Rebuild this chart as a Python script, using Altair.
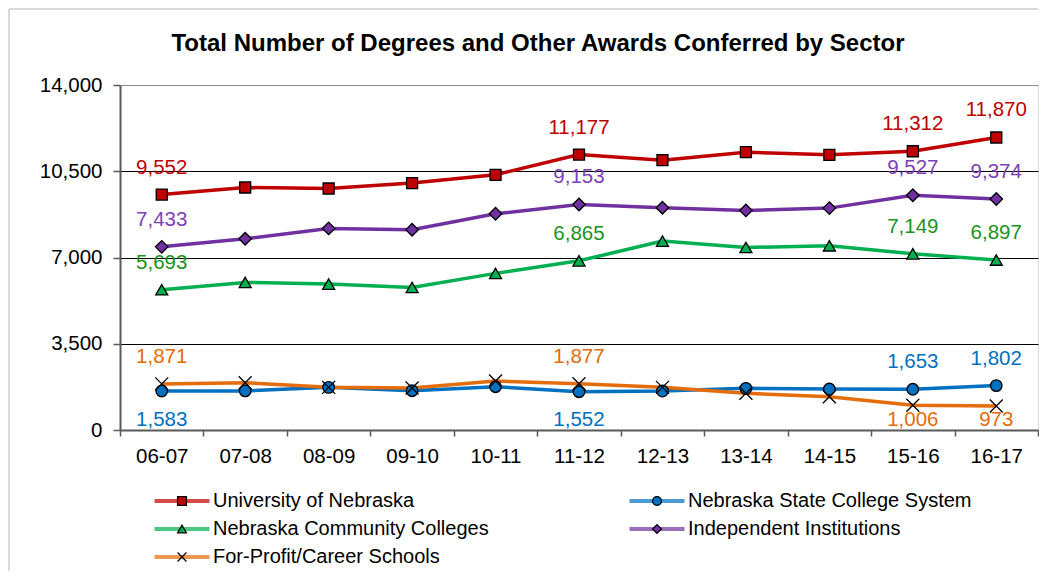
import altair as alt
import pandas as pd

# ---------------- data ----------------
years = ["06-07", "07-08", "08-09", "09-10", "10-11", "11-12",
         "12-13", "13-14", "14-15", "15-16", "16-17"]
series_names = ["University of Nebraska", "Nebraska State College System",
                "Nebraska Community Colleges", "Independent Institutions",
                "For-Profit/Career Schools"]
univ_nebraska = [9552, 9840, 9800, 10020, 10355, 11177, 10950, 11275, 11167, 11312, 11870]
state_college = [1583, 1585, 1731, 1594, 1756, 1552, 1582, 1690, 1663, 1653, 1802]
community_colleges = [5693, 5990, 5921, 5786, 6355, 6865, 7665, 7408, 7475, 7149, 6897]
independent = [7433, 7760, 8180, 8125, 8773, 9153, 9017, 8910, 9004, 9527, 9374]
for_profit = [1871, 1918, 1731, 1703, 1987, 1877, 1731, 1488, 1351, 1006, 973]
series_values = [univ_nebraska, state_college, community_colleges, independent, for_profit]

labeled_years = ["06-07", "11-12", "15-16", "16-17"]
labels_below = {"Nebraska State College System": ["06-07", "11-12"],
                "For-Profit/Career Schools": ["15-16", "16-17"]}
y_ticks = [0, 3500, 7000, 10500, 14000]
title_text = "Total Number of Degrees and Other Awards Conferred by Sector"

# ---------------- styles ----------------
line_colors = ["#C00000", "#0070C0", "#00B050", "#7030A0", "#E46C0A"]
label_colors = ["#C00000", "#0070C0", "#1A9420", "#7D3FB5", "#E46C0A"]
X_PATH = "M-1,-1L1,1M-1,1L1,-1"
shapes = ["square", "circle", "triangle-up", "diamond", X_PATH]
marker_sizes = [121, 169, 169, 196, 110]
FONT = "Liberation Sans"
W, H = 918, 345

rows = []
for s, vals in zip(series_names, series_values):
    for yr, v in zip(years, vals):
        pos = ""
        if yr in labeled_years:
            pos = "below" if yr in labels_below.get(s, []) else "above"
        rows.append({"year": yr, "series": s, "value": v, "pos": pos})
df = pd.DataFrame(rows)

leg_df = pd.DataFrame({"series": series_names,
                       "col": [i % 2 for i in range(len(series_names))],
                       "row": [i // 2 for i in range(len(series_names))]})

x_enc = alt.X("year:N", sort=years, bandPosition=0.5,
              scale=alt.Scale(type="band", paddingInner=0, paddingOuter=0),
              axis=alt.Axis(title=None, tickBand="extent", tickSize=6, labelPadding=10,
                            labelFontSize=20.5, labelFont=FONT, labelColor="black",
                            labelAngle=0, domainColor="#595959", domainWidth=2,
                            tickColor="#595959", tickWidth=1.5, grid=False))
y_enc = alt.Y("value:Q",
              scale=alt.Scale(domain=[0, 14000], nice=False),
              axis=alt.Axis(title=None, values=y_ticks,
                            labelExpr="format(datum.value, ',')", tickSize=7,
                            labelPadding=11, labelFontSize=20.5, labelFont=FONT,
                            labelColor="black", domainColor="#595959", domainWidth=2,
                            tickColor="#595959", tickWidth=1.5,
                            grid=True, gridWidth=1,
                            gridColor={"condition": {"test": "datum.value >= 14000",
                                                     "value": "#8C8C8C"},
                                       "value": "black"}))
stroke_enc = alt.Stroke("series:N", scale=alt.Scale(domain=series_names, range=line_colors),
                        legend=None)
fill_enc = alt.Fill("series:N", scale=alt.Scale(domain=series_names, range=line_colors),
                    legend=None)
shape_enc = alt.Shape("series:N", scale=alt.Scale(domain=series_names, range=shapes),
                      legend=None)
label_color_enc = alt.Color("series:N",
                            scale=alt.Scale(domain=series_names, range=label_colors),
                            legend=None)

base = alt.Chart(df)
lines = base.mark_line(strokeWidth=3.5).encode(x=x_enc, y=y_enc, stroke=stroke_enc,
                                               detail="series:N")
points = base.mark_point(filled=True, stroke="black", strokeWidth=1.3, opacity=1).encode(
    x=x_enc, y=y_enc, fill=fill_enc, shape=shape_enc,
    size=alt.Size("series:N", scale=alt.Scale(domain=series_names, range=marker_sizes),
                  legend=None))
labels_above = base.transform_filter("datum.pos == 'above'").mark_text(
    fontSize=20.5, font=FONT, dy=-27, baseline="middle").encode(
    x=x_enc, y=y_enc, text=alt.Text("value:Q", format=","), color=label_color_enc)
labels_below = base.transform_filter("datum.pos == 'below'").mark_text(
    fontSize=20.5, font=FONT, baseline="middle").encode(
    x=x_enc, y=alt.value(H - 10), text=alt.Text("value:Q", format=","),
    color=label_color_enc)

main = alt.layer(lines, points, labels_above, labels_below)

# legend built from the series list
lx = alt.X("col:Q", scale=alt.Scale(domain=[0, 1], range=[62, 537], nice=False, zero=False),
           axis=None)
ly = alt.Y("row:Q", scale=alt.Scale(domain=[0, 2], range=[416, 472], nice=False, zero=False),
           axis=None)
leg_base = alt.Chart(leg_df)
leg_line = leg_base.mark_tick(orient="horizontal", size=55, thickness=4).encode(
    x=lx, y=ly, fill=fill_enc)
leg_pt = leg_base.mark_point(filled=True, stroke="black", strokeWidth=1.2, opacity=1,
                             size=80).encode(x=lx, y=ly, fill=fill_enc, shape=shape_enc)
leg_txt = leg_base.mark_text(align="left", baseline="middle", dx=31, fontSize=20,
                             font=FONT, color="black").encode(x=lx, y=ly, text="series:N")
legend = alt.layer(leg_line, leg_pt, leg_txt)

# title and chart-area border
title = alt.Chart(pd.DataFrame({"t": [title_text]})).mark_text(
    fontSize=24, fontWeight="bold", font=FONT, color="black", baseline="middle").encode(
    x=alt.value(418), y=alt.value(-41), text="t:N")
frame_df = pd.DataFrame({"a": [0]})
border_left = alt.Chart(frame_df).mark_rule(color="#D9D9D9", strokeWidth=2).encode(
    x=alt.value(-111), y=alt.value(-76), y2=alt.value(486))
border_top = alt.Chart(frame_df).mark_rule(color="#D9D9D9", strokeWidth=2).encode(
    x=alt.value(-111), x2=alt.value(W), y=alt.value(-76))

chart = alt.layer(border_left, border_top, title, main, legend).resolve_scale(
    x="independent", y="independent").properties(
    width=W, height=H, padding={"left": 0, "top": 0, "right": 0, "bottom": 0}
).configure_view(stroke="#8C8C8C", strokeWidth=2).configure(background="white")

chart.save("out.html", embed_options={"renderer": "svg", "actions": False})
